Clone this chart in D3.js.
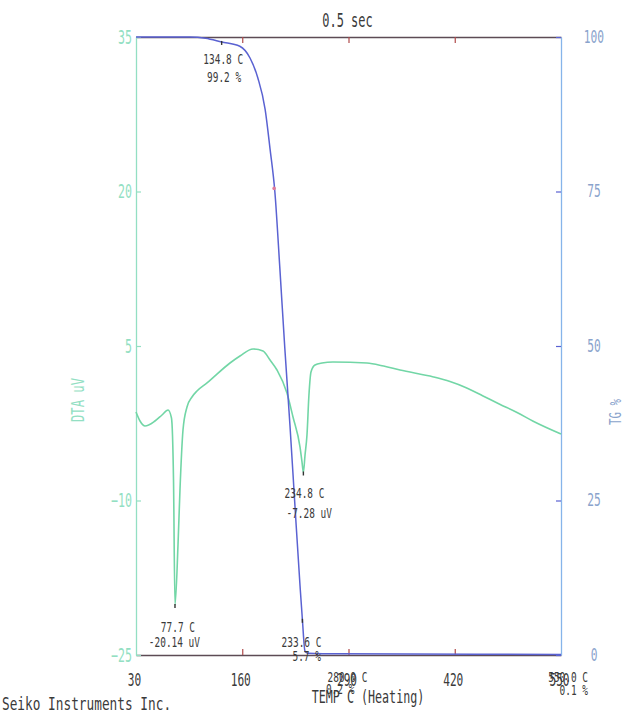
<!DOCTYPE html>
<html><head><meta charset="utf-8">
<script src="https://cdn.jsdelivr.net/npm/d3@7/dist/d3.min.js"></script>
<style>body{margin:0;background:#fff}svg{display:block}</style>
</head><body>
<svg id="c" width="628" height="717"></svg>
<script>
// ---- data ----
const tempTicks = [30, 160, 290, 420, 550];
const dtaTicks = [-25, -10, 5, 20, 35];
const tgTicks = [0, 25, 50, 75, 100];

const dtaTemp = [30, 34.9, 41, 53.2, 61.8, 69.2, 73.4, 75.9, 77.7, 81.4, 83.8, 87.5, 92.4, 98.5, 104.6, 116.9, 145, 157.2, 173.2, 185.4, 194, 202.5, 214.7, 222.1, 230.7, 233.1, 234.8, 236.8, 239.2, 241.6, 244.1, 249, 257.6, 271, 312.6, 333, 353, 394, 414.2, 434, 454.6, 475, 496.2, 516, 550];
const dtaUV =   [-1.41, -2.28, -2.77, -2.28, -1.7, -1.21, -1.99, -8.0, -20.14, -14.3, -8.98, -3.16, -0.92, 0.05, 0.63, 1.41, 3.35, 4.03, 4.71, 4.51, 3.64, 2.67, 0.44, -1.89, -4.81, -6.26, -7.28, -5.6, -3.64, 0.24, 2.48, 3.16, 3.35, 3.45, 3.35, 3.05, 2.67, 2.0, 1.55, 0.95, 0.15, -0.65, -1.45, -2.3, -3.54];

const tgTemp = [30, 96, 115, 134.8, 157, 169.5, 179, 188, 194, 200, 206, 212, 218.5, 224.5, 230.7, 233.6, 236.8, 240, 280, 550];
const tgPct =  [100, 100, 99.8, 99.2, 98.5, 96.6, 93.4, 88.3, 81.9, 74.8, 62.6, 49.8, 36.9, 24.1, 11.2, 5.7, 0.6, 0.3, 0.2, 0.1];

const peakTemp = [134.8, 77.7, 234.8, 233.6, 280.0, 550.0];
const peakVal = [99.2, -20.14, -7.28, 5.7, 0.2, 0.1];
const peakAxis = ["tg", "dta", "dta", "tg", "tg", "tg"];
const peakLine1 = ["134.8 C", "77.7 C", "234.8 C", "233.6 C", "280.0 C", "550.0 C"];
const peakLine2 = ["99.2 %", "-20.14 uV", "-7.28 uV", "5.7 %", "0.2 %", "0.1 %"];

const inflTemp = [199];
const inflPct = [75.5];

// ---- layout / style ----
const W = 628, H = 717;
const L = 136, R = 561, T = 37, B = 655;
const labelOff = [[21.5, 22, 19.5, 40], [20, 27, 25, 42], [21, 25.5, 28.6, 45.5], [19, 27, 18.5, 41], [27, 28, 14, 40], [27, 28, 27, 41]];
const FONT = "'DejaVu Sans Mono', monospace";
const cGreen = "#72d6a6", cGreenAx = "#93dfc3", cBlue = "#5a62d2", cBlueAx = "#86b4ea", cBlueTxt = "#8aa3cc";
const cFrame = "#5d4b55", cTickRed = "#b04a4a", cText = "#3a3a3a";

const svg = d3.select("#c");
svg.append("rect").attr("width", W).attr("height", H).attr("fill", "#fff");

const x = d3.scaleLinear().domain([30, 550]).range([L, R]);
const yD = d3.scaleLinear().domain([-25, 35]).range([B, T]);
const yT = d3.scaleLinear().domain([0, 100]).range([B, T]);

function cond(sel, sx) {
  sel.each(function () {
    const t = d3.select(this);
    const tx = +t.attr("x") || 0, ty = +t.attr("y") || 0;
    t.attr("x", null).attr("y", null)
     .attr("transform", `translate(${tx},${ty}) scale(${sx},1)`);
  });
}
function label(g, px, py, txt, size, sx, anchor, color, rot) {
  return g.append("text").text(txt)
    .attr("transform", `translate(${px},${py})${rot ? ` rotate(${rot})` : ""} scale(${sx},1)`)
    .attr("text-anchor", anchor).attr("font-family", FONT).attr("font-size", size)
    .attr("fill", color);
}

// ---- axes ----
const gTop = svg.append("g").attr("transform", `translate(0,${T})`)
  .call(d3.axisTop(x).tickValues(tempTicks.slice(1, -1)).tickSizeInner(-6).tickSizeOuter(0).tickFormat(""));
gTop.select(".domain").attr("stroke", cFrame).attr("stroke-width", 1.4);
gTop.selectAll(".tick line").attr("stroke", cTickRed).attr("stroke-width", 1.2);

const gBot = svg.append("g").attr("transform", `translate(0,${B})`)
  .call(d3.axisBottom(x).tickValues(tempTicks).tickSizeInner(-6).tickSizeOuter(0).tickPadding(18).tickFormat(d3.format("d")));
gBot.select(".domain").attr("stroke", cFrame).attr("stroke-width", 1.4);
gBot.selectAll(".tick line").attr("stroke", (d, i) => (i === 0 || i === tempTicks.length - 1) ? "none" : cTickRed).attr("stroke-width", 1.2);
gBot.selectAll(".tick text").attr("font-family", FONT).attr("font-size", 18).attr("fill", cText).attr("x", -2);
cond(gBot.selectAll(".tick text"), 0.62);

const gL = svg.append("g").attr("transform", `translate(${L},0)`)
  .call(d3.axisLeft(yD).tickValues(dtaTicks).tickSizeInner(-5).tickSizeOuter(0).tickPadding(5));
gL.select(".domain").attr("stroke", cGreenAx).attr("stroke-width", 1.3);
gL.selectAll(".tick line").attr("stroke", cGreenAx).attr("stroke-width", 1.2);
gL.selectAll(".tick text").attr("font-family", FONT).attr("font-size", 19).attr("fill", cGreenAx).attr("x", -4);
cond(gL.selectAll(".tick text"), 0.61);

const gR = svg.append("g").attr("transform", `translate(${R},0)`)
  .call(d3.axisRight(yT).tickValues(tgTicks).tickSizeInner(-5).tickSizeOuter(0));
gR.select(".domain").attr("stroke", cBlueAx).attr("stroke-width", 1.3);
gR.selectAll(".tick line").attr("stroke", cBlue).attr("stroke-width", 1.2);
gR.selectAll(".tick text").attr("font-family", FONT).attr("font-size", 17).attr("fill", cBlueTxt)
  .attr("text-anchor", "middle").attr("x", 33);
cond(gR.selectAll(".tick text"), 0.66);
svg.selectAll(".domain").attr("fill", "none");
svg.selectAll("g").attr("font-family", null);

// ---- curves ----
const dtaData = dtaTemp.map((t, i) => [t, dtaUV[i]]);
const tgData = tgTemp.map((t, i) => [t, tgPct[i]]);
svg.append("path").datum(dtaData).attr("fill", "none").attr("stroke", cGreen).attr("stroke-width", 1.6)
  .attr("d", d3.line().x(d => x(d[0])).y(d => yD(d[1])).curve(d3.curveMonotoneX));
svg.append("path").datum(tgData).attr("fill", "none").attr("stroke", cBlue).attr("stroke-width", 1.5)
  .attr("d", d3.line().x(d => x(d[0])).y(d => yT(d[1])).curve(d3.curveMonotoneX));

// inflection marker
svg.selectAll(".infl").data(inflTemp).join("circle").attr("class", "infl")
  .attr("cx", d => x(d)).attr("cy", (d, i) => yT(inflPct[i])).attr("r", 1.8).attr("fill", "#e07a9a");

// ---- peak markers & labels ----
const gA = svg.append("g");
peakTemp.forEach((t, i) => {
  const px = x(t), py = peakAxis[i] === "tg" ? yT(peakVal[i]) : yD(peakVal[i]);
  if (i < 4) gA.append("line").attr("x1", px).attr("x2", px).attr("y1", py - 1).attr("y2", py + 3)
    .attr("stroke", "#333").attr("stroke-width", 1.4);
  const o = labelOff[i];
  label(gA, px + o[0], py + o[1], peakLine1[i], 13.5, 0.7, "end", cText);
  label(gA, px + o[2], py + o[3], peakLine2[i], 13.5, 0.7, "end", cText);
});

// ---- titles ----
label(svg, (L + R) / 2 - 1, 27, "0.5 sec", 19, 0.63, "middle", cText);
label(svg, 368, 703, "TEMP C  (Heating)", 18, 0.65, "middle", cText);
label(svg, 2, 710, "Seiko Instruments Inc.", 18, 0.71, "start", cText);
label(svg, 84, 400, "DTA uV", 17, 0.72, "middle", cGreenAx, -90);
label(svg, 621, 412, "TG %", 15, 0.72, "middle", cBlueTxt, -90);
</script>
</body></html>
